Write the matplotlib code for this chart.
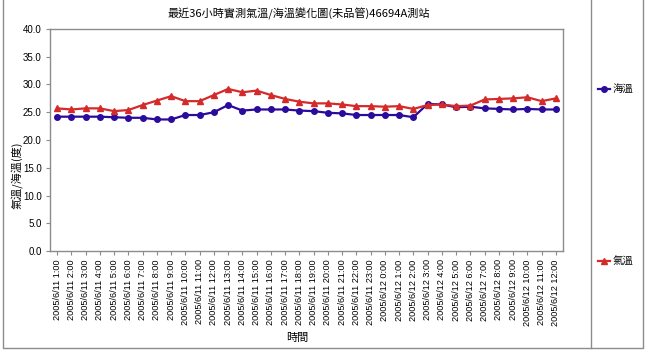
import matplotlib
matplotlib.use("Agg")
from matplotlib import pyplot as plt
from matplotlib.lines import Line2D
import numpy as np

plt.rcParams['font.family'] = ['Noto Sans CJK TC', 'DejaVu Sans']

# time labels
labels = ["2005/6/11 %d:00" % h for h in range(1, 24)] + \
         ["2005/6/12 %d:00" % h for h in range(0, 13)]

# sea temperature (海溫)
sea = [24.2, 24.2, 24.2, 24.2, 24.1, 24.0, 24.0, 23.7, 23.7, 24.5,
       24.5, 25.0, 26.3, 25.3, 25.5, 25.5, 25.5, 25.3, 25.2, 24.9,
       24.8, 24.5, 24.5, 24.5, 24.5, 24.1, 26.5, 26.4, 25.9, 26.0,
       25.7, 25.6, 25.5, 25.6, 25.5, 25.5]

# air temperature (氣溫)
air = [25.7, 25.5, 25.7, 25.7, 25.2, 25.4, 26.3, 27.1, 27.9, 27.0,
       27.0, 28.1, 29.2, 28.6, 28.9, 28.1, 27.4, 26.9, 26.6, 26.6,
       26.4, 26.1, 26.1, 26.0, 26.1, 25.6, 26.3, 26.4, 26.1, 26.2,
       27.3, 27.4, 27.5, 27.7, 27.0, 27.5]

blue = '#2B0B9B'
red = '#D42A2A'
grey = '#8C8C8C'

W, H = 645, 353
fig = plt.figure(figsize=(W / 100, H / 100), dpi=100)
ax = fig.add_axes([50 / W, (H - 251) / H, 513 / W, 222 / H])

x = np.arange(len(labels))
ax.plot(x, sea, color=blue, lw=1.6, marker='o', ms=4, mec=blue, mfc=blue)
ax.plot(x, air, color=red, lw=1.6, marker='^', ms=4, mec=red, mfc=red)

ax.set_xlim(-0.5, len(labels) - 0.5)
ax.set_ylim(0, 40)
ax.set_yticks(np.arange(0, 40.1, 5))
ax.set_yticklabels(["%.1f" % v for v in np.arange(0, 40.1, 5)],
                   family='Liberation Sans', fontsize=7)
ax.set_xticks(x)
ax.set_xticklabels(labels, rotation=90, family='Liberation Sans', fontsize=6.6)
ax.tick_params(length=3, color=grey, pad=3)
for s in ax.spines.values():
    s.set_color(grey)
    s.set_linewidth(1)

ax.set_ylabel("氣溫/海溫(度)", fontsize=8)
ax.yaxis.set_label_coords(-27 / 513, (H - 175 - 102) / 222)
fig.text(297 / W, 1 - 338 / H, "時間", fontsize=8, ha='center', va='center')
fig.text(299 / W, 1 - 14 / H, "最近36小時實測氣溫/海溫變化圖(未品管)46694A測站",
         fontsize=8, ha='center', va='center')

# legend entries
for yy, col, mk, name in [(89, blue, 'o', "海溫"), (261, red, '^', "氣溫")]:
    fy = 1 - yy / H
    fig.add_artist(Line2D([598 / W, 610 / W], [fy, fy], color=col, lw=1.6,
                          marker=None, transform=fig.transFigure))
    fig.add_artist(Line2D([604 / W], [fy], color=col, marker=mk, ms=4,
                          transform=fig.transFigure))
    fig.text(613 / W, fy, name, fontsize=7.5, va='center')

# frame lines
fig.add_artist(Line2D([3 / W, 3 / W, 643 / W, 643 / W],
                      [1, 1 - 348 / H, 1 - 348 / H, 1], color=grey, lw=1))
fig.add_artist(Line2D([591 / W, 591 / W], [1, 1 - 348 / H], color=grey, lw=1))

fig.savefig("out.png", dpi=100)
